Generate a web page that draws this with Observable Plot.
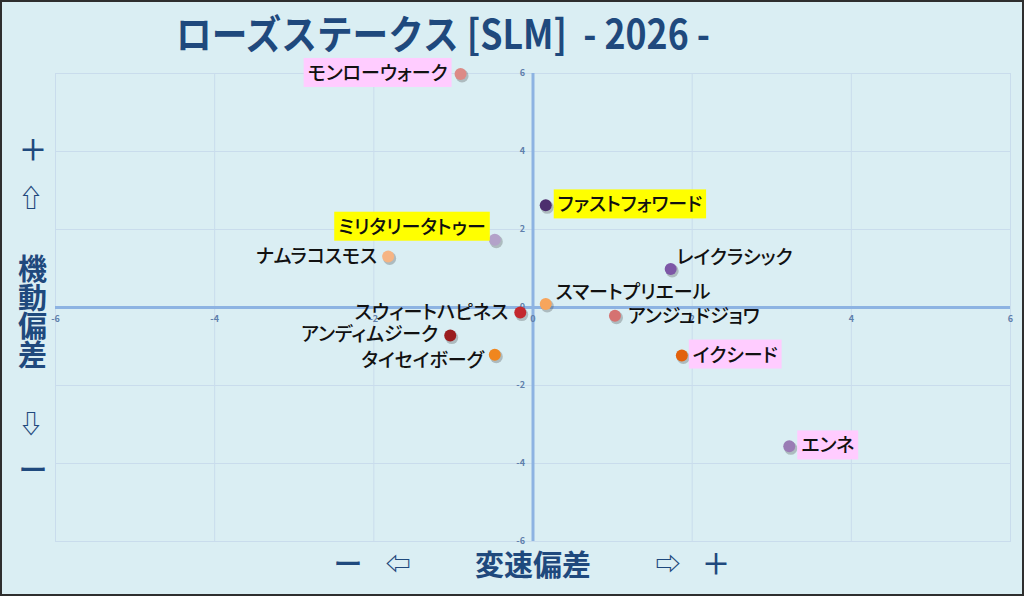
<!DOCTYPE html>
<html><head><meta charset="utf-8">
<script src="https://cdn.jsdelivr.net/npm/d3@7"></script>
<script src="https://cdn.jsdelivr.net/npm/@observablehq/plot@0.6"></script>
<style>
body{margin:0;background:#ffffff;}
#wrap{position:relative;width:1024px;height:596px;background:#daeef3;overflow:hidden;font-family:"Noto Sans CJK JP",sans-serif;}
#border{position:absolute;left:0;top:0;width:1024px;height:596px;box-sizing:border-box;border:2px solid #2e2e2e;pointer-events:none;}
#chart{position:absolute;left:0;top:0;}
#chart g.lab text{font-feature-settings:"palt" 1;}
.lbl{position:absolute;color:#1f497d;font-weight:700;white-space:pre;line-height:1;transform:translate(-50%,-50%);}
#title{position:absolute;left:176px;top:12px;color:#1f497d;font-weight:700;white-space:pre;line-height:1;font-size:40px;transform-origin:0 0;}
#yname{position:absolute;left:18px;top:253px;width:29px;color:#1f497d;font-weight:700;font-size:29px;line-height:28.5px;text-align:center;}
</style></head><body>
<div id="wrap">
  <div id="chart"></div>
  <div id="title">ローズステークス [SLM]  - 2026 -</div>
  <div class="lbl" style="left:33px;top:148px;font-size:29px;font-weight:500;">＋</div>
  <div class="lbl" style="left:31px;top:196px;font-size:25px;">⇧</div>
  <div id="yname">機<br>動<br>偏<br>差</div>
  <div class="lbl" style="left:31px;top:422px;font-size:25px;">⇩</div>
  <div class="lbl" style="left:33px;top:468px;font-size:29px;font-weight:500;">ー</div>
  <div class="lbl" style="left:348px;top:562px;font-size:29px;font-weight:500;">ー</div>
  <div class="lbl" style="left:398px;top:562px;font-size:25px;">⇦</div>
  <div class="lbl" style="left:533px;top:563px;font-size:29px;">変速偏差</div>
  <div class="lbl" style="left:668px;top:562px;font-size:25px;">⇨</div>
  <div class="lbl" style="left:716px;top:562px;font-size:29px;font-weight:500;">＋</div>
  <div id="border"></div>
</div>
<script>
// ---- data ----
const horses = ["モンローウォーク","ファストフォワード","ミリタリータトゥー","ナムラコスモス","レイクラシック","スマートプリエール","スウィートハピネス","アンジュドジョワ","アンディムジーク","タイセイボーグ","イクシード","エンネ"];
const speedDev    = [-0.91, 0.16, -0.48, -1.82, 1.73, 0.16, -0.16, 1.03, -1.04, -0.48, 1.87, 3.22];
const mobilityDev = [ 5.99, 2.62,  1.74,  1.31, 0.99, 0.09, -0.13, -0.21, -0.72, -1.21, -1.23, -3.56];
const pointColors = ["#dc8a86","#4d2f6e","#b3a2c9","#f6b483","#7d57a6","#f7a55c","#c3282e","#d57271","#9b1d1f","#f0861f","#e2610c","#9a7cb5"];
const highlight   = ["pink","yellow","yellow",null,null,null,null,null,null,null,"pink","pink"];
const xTicks = [-6,-4,-2,0,2,4,6];
const yTicks = [-6,-4,-2,0,2,4,6];
const gridTicks = [-6,-4,-2,2,4,6];

// label placement (anchor, dx, dy) - style only
const labelPlacement = {
  "モンローウォーク":["end",-13,0],
  "ファストフォワード":["start",12,0],
  "ミリタリータトゥー":["end",-9,-12],
  "ナムラコスモス":["end",-11,0],
  "レイクラシック":["start",6,-11],
  "スマートプリエール":["start",10,-11],
  "スウィートハピネス":["end",-12,0],
  "アンジュドジョワ":["start",13,1],
  "アンディムジーク":["end",-12,-1],
  "タイセイボーグ":["end",-11,6],
  "イクシード":["start",11,0],
  "エンネ":["start",12,0]
};
const hlColors = {pink:"#ffccff", yellow:"#ffff00"};

const data = horses.map((name,i)=>({name, x:speedDev[i], y:mobilityDev[i], color:pointColors[i], hl:highlight[i]}));

const labelMarks = data.map(d=>{
  const [anchor,dx,dy] = labelPlacement[d.name];
  return Plot.text([d], {x:"x", y:"y", text:"name", textAnchor:anchor, dx, dy,
    fontSize:19, fontWeight:500, fill:"#111111", className:"lab",
    ariaDescription: d.hl ? "hl-"+d.hl : "label"});
});

const chart = Plot.plot({
  width:1024, height:596,
  marginLeft:55, marginRight:14, marginTop:73, marginBottom:55,
  x:{domain:[-6,6], axis:null},
  y:{domain:[-6,6], axis:null},
  color:{type:"identity"},
  style:{background:"transparent", fontFamily:"'Noto Sans CJK JP', sans-serif", overflow:"visible"},
  marks:[
    Plot.ruleX(gridTicks, {x:d=>d, stroke:"#c9dcec", strokeWidth:1}),
    Plot.ruleY(gridTicks, {y:d=>d, stroke:"#c9dcec", strokeWidth:1}),
    Plot.frame({stroke:"#c9dcec"}),
    Plot.ruleX([0], {x:d=>d, stroke:"#8db3e2", strokeWidth:3}),
    Plot.ruleY([0], {y:d=>d, stroke:"#8db3e2", strokeWidth:3}),
    Plot.text(xTicks, {x:d=>d, y:0, dy:12, text:d=>String(d), fontSize:9, fontWeight:"bold", fill:"#5f7fab"}),
    Plot.text(yTicks, {x:0, y:d=>d, dx:-8, text:d=>String(d), textAnchor:"end", fontSize:9, fontWeight:"bold", fill:"#5f7fab"}),
    Plot.dot(data, {x:"x", y:"y", r:6.5, fill:"#3a3a3a", fillOpacity:0.28, dx:1.5, dy:2}),
    Plot.dot(data, {x:"x", y:"y", r:6, fill:"color"}),
    ...labelMarks
  ]
});
document.getElementById("chart").appendChild(chart);
// ensure palt applies even if className is unsupported
chart.querySelectorAll('g[aria-description^="hl-"] text, g[aria-description="label"] text').forEach(t=>t.style.fontFeatureSettings='"palt" 1');

// highlight boxes behind highlighted labels
chart.querySelectorAll('g[aria-description^="hl-"]').forEach(g=>{
  const kind = g.getAttribute("aria-description").slice(3);
  g.querySelectorAll("text").forEach(t=>{
    const b = t.getBBox();
    const cy = b.y + b.height/2 + 1;
    const r = document.createElementNS("http://www.w3.org/2000/svg","rect");
    r.setAttribute("x", b.x-4); r.setAttribute("y", cy-14.5);
    r.setAttribute("width", b.width+8); r.setAttribute("height", 29);
    r.setAttribute("fill", hlColors[kind]);
    if (t.getAttribute("transform")) r.setAttribute("transform", t.getAttribute("transform"));
    g.insertBefore(r, t);
  });
});

// fit title width to the reference span
const title = document.getElementById("title");
const w = title.getBoundingClientRect().width;
title.style.transform = `scaleX(${534/w})`;
</script>
</body></html>
